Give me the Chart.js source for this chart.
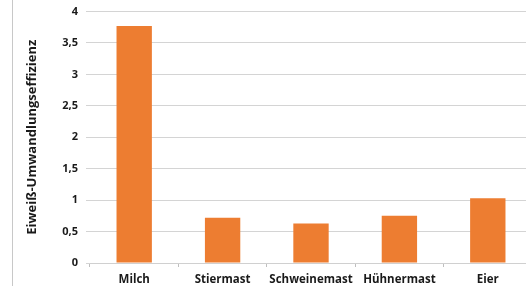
<!DOCTYPE html>
<html>
<head>
<meta charset="utf-8">
<script src="https://cdn.jsdelivr.net/npm/chart.js@4.4.0/dist/chart.umd.min.js"></script>
<style>
  html, body { margin: 0; padding: 0; background: #fff; overflow: hidden; }
  #wrap { position: relative; width: 526px; height: 291px; overflow: hidden; }
  #box { position: absolute; left: 12px; top: 0; width: 1px; height: 286px; background: #c8c8c8; }
  #cv { position: absolute; left: 0; top: 0; }
</style>
</head>
<body>
<div id="wrap">
  <div id="box"></div>
  <canvas id="cv" width="532" height="291"></canvas>
</div>
<script>
'use strict';

const categories = ['Milch', 'Stiermast', 'Schweinemast', 'Hühnermast', 'Eier'];
const effizienz = [3.77, 0.72, 0.63, 0.75, 1.03];
const axisTitle = 'Eiweiß-Umwandlungseffizienz';

const ctx = document.getElementById('cv').getContext('2d');
const myChart = new Chart(ctx, {
    type: 'bar',
    data: {
        labels: categories,
        datasets: [{
            label: axisTitle,
            data: effizienz,
            backgroundColor: '#ED7D31',
            borderWidth: 0,
            categoryPercentage: 1,
            barPercentage: 0.4
        }]
    },
    options: {
        responsive: false,
        animation: false,
        layout: { padding: { top: 11.5, right: 0, left: 0, bottom: 0 } },
        plugins: {
            legend: { display: false },
            tooltip: { enabled: false }
        },
        scales: {
            x: {
                grid: {
                    offset: true,
                    drawOnChartArea: false,
                    drawTicks: true,
                    tickLength: 4,
                    color: '#bfbfbf'
                },
                border: { display: true, color: '#d0d0d0' },
                ticks: {
                    color: '#1a1a1a',
                    padding: 6,
                    maxRotation: 0,
                    autoSkip: false,
                    font: { family: 'Open Sans', weight: 'bold', size: 11.5 }
                },
                afterFit: function (scale) { scale.height = 28; }
            },
            y: {
                min: 0,
                max: 4,
                ticks: {
                    stepSize: 0.5,
                    color: '#1a1a1a',
                    padding: 8,
                    font: { family: 'Open Sans', weight: 'bold', size: 11 },
                    callback: function (v) { return String(v).replace('.', ','); }
                },
                grid: {
                    color: '#d4d4d4',
                    tickLength: 4,
                    lineWidth: 1
                },
                border: { display: false },
                title: {
                    display: true,
                    text: axisTitle,
                    color: '#1a1a1a',
                    padding: { top: 24, bottom: 0 },
                    font: { family: 'Open Sans', weight: 'bold', size: 13 }
                },
                afterFit: function (scale) {
                    scale.width = 90;
                    scale.paddingTop = 0;
                    scale.paddingBottom = 0;
                }
            }
        }
    }
});
</script>
</body>
</html>
